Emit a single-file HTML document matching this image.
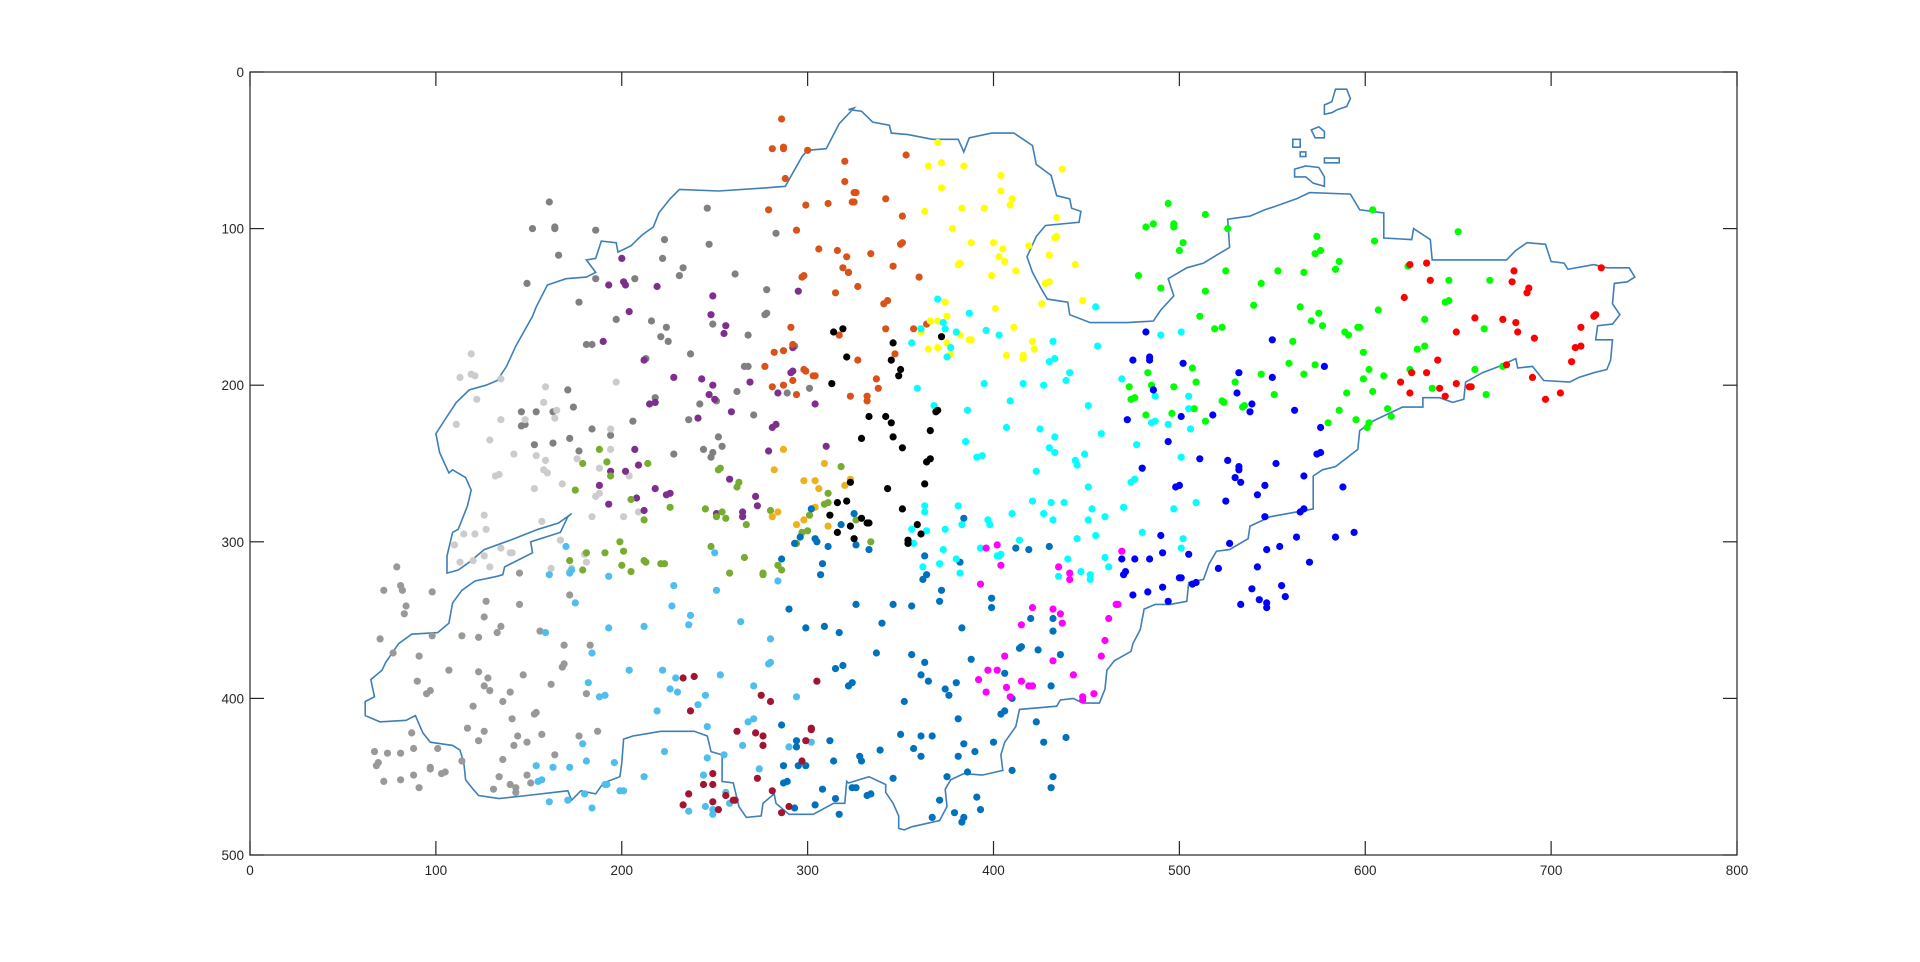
<!DOCTYPE html>
<html><head><meta charset="utf-8"><style>
html,body{margin:0;padding:0;background:#fff;}
svg{display:block;font-family:"Liberation Sans",sans-serif;}
</style></head><body>
<svg id="chart" width="1920" height="962" viewBox="0 0 1920 962" xmlns="http://www.w3.org/2000/svg">
<rect width="1920" height="962" fill="#ffffff"/>
<g id="outline"></g>
<g id="points"></g>
<g id="axes"></g>
</svg>
<script>
const xTicks=[0,100,200,300,400,500,600,700,800];
const yTicks=[0,100,200,300,400,500];
const xMax=800, yMax=500;
const L=250,R=1737,T=72,B=855;
function sx(x){return L+x*(R-L)/xMax;}
function sy(y){return T+y*(B-T)/yMax;}

const outlineMain=[[322,24],[329,25],[335,32],[344,34],[345,39],[354,40],[367,43],[381,43],[384,51],[387,42],[399,39],[411,39],[421,47],[423,59],[431,66],[434,79],[441,81],[442,87],[447,89],[446,96],[428,98],[423,105],[418,118],[421,128],[426,139],[429,145],[440,147],[441,155],[452,160],[472,160],[486,159],[490,152],[497,143],[494,132],[504,125],[513,122],[520,117],[527,112],[526,94],[538,92],[546,88],[551,86],[563,81],[570,77],[592,78],[597,88],[610,90],[610,106],[625,107],[626,100],[635,107],[636,120],[653,120],[676,120],[681,114],[687,109],[697,110],[700,121],[707,122],[709,126],[723,123],[730,125],[742,125],[745,131],[741,134],[734,135],[733,148],[737,155],[733,161],[725,162],[724,171],[733,171],[732,184],[730,190],[723,192],[715,195],[710,198],[696,197],[690,188],[682,189],[681,183],[672,188],[663,192],[654,198],[653,209],[647,211],[640,208],[631,208],[631,214],[620,214],[611,219],[604,223],[597,229],[596,241],[584,252],[577,254],[572,258],[572,279],[549,284],[538,290],[537,298],[527,305],[520,306],[516,314],[513,324],[505,326],[504,338],[495,340],[487,340],[481,343],[479,356],[475,365],[474,370],[465,376],[461,382],[460,394],[457,403],[448,403],[443,400],[436,401],[434,405],[414,407],[412,418],[406,428],[404,436],[405,446],[394,449],[384,448],[377,452],[374,458],[375,469],[371,478],[356,482],[352,484],[349,483],[349,475],[346,467],[342,460],[342,455],[333,450],[322,454],[321,453],[320,467],[314,467],[303,474],[290,474],[283,467],[282,461],[276,467],[275,475],[267,476],[263,469],[260,454],[254,453],[254,436],[248,434],[246,424],[239,421],[233,421],[221,421],[206,424],[201,426],[200,441],[199,450],[190,454],[186,461],[178,459],[173,465],[171,459],[149,462],[134,464],[123,462],[120,458],[116,452],[115,441],[113,433],[109,430],[97,428],[93,422],[89,411],[84,414],[70,415],[62,411],[62,402],[67,399],[65,388],[71,382],[73,377],[80,365],[87,359],[101,358],[107,352],[109,339],[114,331],[121,325],[133,322],[136,321],[137,316],[152,307],[151,300],[167,294],[171,284],[173,282],[166,288],[155,292],[140,299],[126,305],[118,313],[112,318],[106,320],[106,309],[109,294],[112,292],[117,277],[119,267],[116,259],[109,254],[107,256],[102,243],[100,231],[106,220],[111,211],[118,203],[127,200],[133,197],[138,188],[143,175],[152,156],[154,150],[160,136],[170,132],[181,131],[186,128],[181,120],[186,119],[189,108],[197,109],[198,115],[205,111],[211,104],[217,99],[220,90],[226,81],[231,75],[252,76],[277,74],[288,73],[297,54],[300,50],[310,49],[317,33],[325,23]];
const islands=[
[[584,11],[590,11],[592,17],[590,22],[585,24],[582,26],[578,27],[578,21],[582,19]],
[[571,37],[575,35],[578,38],[578,42],[573,42]],
[[561,43],[565,43],[565,48],[561,48]],
[[565,51],[568,51],[568,54],[565,54]],
[[578,55],[586,55],[586,58],[578,58]],
[[562,62],[568,60],[575,61],[578,67],[578,73],[572,71],[568,67],[562,67]]
];

const grayDark=[[161,83],[152,100],[164,99],[164,100],[186,101],[166,117],[149,135],[186,132],[177,147],[197,158],[207,132],[223,107],[222,119],[233,125],[231,130],[246,87],[247,110],[261,129],[278,139],[277,155],[278,154],[283,103],[268,168],[216,159],[224,163],[221,169],[225,172],[249,161],[237,180],[213,183],[181,174],[184,174],[266,188],[268,188],[262,204],[251,210],[242,212],[218,208],[171,203],[174,214],[154,217],[146,217],[146,226],[148,225],[163,217],[184,228],[194,232],[206,223],[236,222],[252,233],[254,239],[271,219],[289,205],[301,202],[293,175],[244,241],[249,243],[248,246],[228,244],[177,242],[172,234],[163,237],[153,238]];
const grayMid=[[79,316],[72,331],[81,328],[82,331],[98,332],[84,341],[83,346],[70,362],[77,371],[91,373],[98,360],[114,360],[123,361],[127,338],[126,348],[135,354],[133,358],[145,320],[145,340],[156,357],[172,334],[169,366],[183,366],[168,380],[169,378],[162,391],[181,397],[147,385],[128,387],[126,392],[129,395],[123,383],[107,382],[90,389],[95,397],[97,395],[140,396],[136,402],[120,405],[141,413],[154,409],[153,410],[117,419],[126,421],[123,427],[144,424],[149,428],[142,430],[157,423],[177,424],[187,421],[87,422],[88,432],[101,432],[67,434],[74,435],[81,435],[69,441],[68,443],[114,440],[136,439],[164,436],[97,444],[97,445],[103,448],[105,447],[88,449],[72,453],[81,452],[91,457],[134,450],[149,449],[151,454],[140,455],[143,457],[143,460],[131,458]];
const lightGray=[[119,180],[113,195],[119,193],[121,194],[135,196],[122,209],[111,225],[135,222],[129,235],[142,244],[154,245],[159,248],[158,254],[134,257],[132,258],[159,201],[158,211],[165,216],[164,221],[148,222],[197,198],[194,228],[194,241],[188,253],[204,258],[176,247],[160,256],[153,266],[168,263],[186,271],[188,269],[184,284],[201,284],[209,281],[126,283],[157,287],[115,295],[121,295],[127,292],[110,302],[135,304],[140,307],[141,307],[167,299],[180,308],[181,313],[113,313],[120,312],[126,309],[129,316],[162,317],[173,317],[172,319]];
const purple=[[200,119],[193,136],[201,134],[202,136],[219,137],[204,153],[190,172],[212,184],[228,195],[243,196],[249,143],[248,155],[256,162],[255,167],[249,200],[247,206],[250,209],[215,212],[218,211],[259,217],[241,221],[269,198],[284,205],[291,192],[292,191],[295,140],[292,176],[304,212],[281,227],[283,225],[279,242],[310,239],[207,241],[209,251],[194,255],[202,255],[258,260],[188,264],[193,276],[208,272],[212,280],[218,266],[224,270],[226,269],[272,271],[273,277],[265,281],[265,284],[251,282]];
const orange=[[286,30],[281,49],[287,48],[287,49],[300,50],[288,68],[320,57],[320,70],[326,77],[325,83],[311,84],[299,85],[279,88],[294,101],[306,113],[316,114],[321,118],[319,125],[322,128],[297,131],[298,130],[315,141],[291,163],[317,168],[292,174],[282,179],[287,178],[277,188],[298,190],[299,191],[303,194],[304,194],[292,197],[287,200],[281,201],[294,206],[353,53],[325,77],[324,83],[342,81],[351,92],[350,110],[351,109],[334,116],[346,124],[322,128],[360,131],[327,137],[341,148],[343,146],[342,164],[357,164],[364,161],[327,184],[347,180],[337,196],[338,202],[332,207],[332,210],[323,207]];
const black=[[314,166],[319,164],[321,182],[313,199],[323,262],[316,275],[321,274],[312,283],[323,290],[316,294],[325,298],[372,169],[346,173],[345,184],[350,190],[349,194],[333,220],[342,220],[345,224],[366,229],[346,233],[329,234],[351,240],[364,249],[366,247],[369,217],[370,216],[343,266],[363,263],[351,279],[329,285],[332,288],[333,288],[359,289],[361,295],[354,299],[354,301]];
const olive=[[188,241],[179,250],[192,249],[214,250],[253,253],[318,252],[194,258],[175,267],[205,273],[226,278],[212,286],[245,279],[252,254],[262,265],[263,262],[254,281],[251,284],[256,285],[267,289],[280,280],[311,269],[309,276],[311,275],[301,283],[297,294],[300,293],[294,301],[326,286],[199,300],[181,307],[191,307],[201,306],[172,312],[179,318],[200,315],[205,319],[212,312],[213,313],[221,314],[223,314],[248,303],[266,310],[258,320],[276,320],[284,315],[286,318],[276,321],[334,300]];
const amber=[[287,241],[309,250],[282,254],[298,261],[304,261],[306,266],[320,264],[323,260],[284,281],[281,284],[304,278],[298,286],[294,289],[311,290]];
const steelBlue=[[302,279],[325,282],[318,289],[296,297],[293,301],[304,298],[305,300],[311,303],[326,302],[286,311],[308,314],[307,321],[326,340],[290,343],[299,355],[309,354],[317,358],[315,381],[319,379],[322,392],[324,390],[286,417],[294,427],[294,431],[312,427],[287,443],[295,443],[299,443],[314,440],[328,437],[287,454],[289,453],[308,458],[315,464],[293,470],[304,468],[317,474],[324,457],[326,457],[333,305],[384,285],[412,304],[419,305],[430,303],[363,309],[382,313],[364,321],[362,324],[372,331],[371,338],[399,336],[399,342],[346,340],[356,341],[340,352],[383,355],[420,349],[432,349],[432,357],[414,368],[415,367],[424,369],[436,372],[337,371],[356,372],[363,377],[388,375],[361,385],[365,389],[380,390],[374,394],[376,398],[406,384],[431,392],[410,400],[352,402],[404,410],[406,408],[381,413],[423,415],[350,423],[361,424],[367,424],[400,428],[384,429],[427,428],[439,425],[339,433],[357,432],[361,437],[381,437],[390,434],[329,440],[346,451],[375,450],[386,447],[410,446],[432,450],[431,457],[332,462],[334,461],[371,465],[391,463],[393,471],[379,473],[384,476],[383,479],[367,476]];
const lightBlue=[[170,303],[161,321],[172,320],[173,318],[193,322],[175,339],[159,358],[193,355],[212,354],[228,328],[227,341],[237,347],[236,353],[251,331],[250,307],[264,351],[280,362],[279,378],[280,377],[284,325],[184,371],[204,382],[222,382],[229,387],[226,394],[230,396],[253,385],[271,392],[245,398],[241,404],[219,408],[294,399],[268,415],[271,413],[246,418],[265,430],[290,431],[302,428],[182,390],[188,399],[191,398],[179,429],[181,440],[196,441],[223,434],[255,436],[246,438],[274,445],[244,449],[212,450],[154,443],[163,444],[172,444],[155,453],[157,452],[191,455],[192,455],[199,459],[201,459],[180,461],[161,466],[171,465],[184,470],[236,472],[245,469],[249,471],[249,474],[256,460],[258,467]];
const darkRed=[[233,387],[239,386],[275,398],[280,402],[237,408],[262,421],[272,422],[276,424],[276,430],[302,419],[302,420],[299,427],[297,440],[305,389],[249,448],[273,451],[244,455],[249,455],[236,461],[256,462],[260,465],[261,465],[249,466],[233,468],[252,471],[281,459],[290,469],[286,473]];
const yellow=[[370,45],[365,60],[372,58],[384,60],[372,74],[404,66],[404,76],[410,81],[409,85],[363,89],[383,87],[395,87],[378,100],[388,109],[400,109],[405,113],[403,118],[406,121],[382,122],[381,123],[412,127],[399,130],[419,111],[430,117],[433,106],[434,105],[434,93],[437,62],[444,123],[428,135],[430,134],[426,148],[448,146],[401,151],[374,147],[375,156],[366,159],[370,159],[361,166],[411,163],[382,168],[387,171],[388,171],[375,173],[365,177],[370,176],[377,180],[421,172],[422,177],[407,181],[416,181],[416,183]];
const cyan=[[370,145],[387,154],[396,165],[403,168],[380,166],[374,164],[373,160],[361,164],[356,173],[377,176],[375,182],[432,172],[430,185],[433,183],[441,192],[439,197],[456,175],[455,150],[469,196],[395,199],[416,199],[427,200],[359,202],[368,213],[386,216],[409,210],[451,213],[407,227],[425,228],[433,233],[458,231],[385,236],[430,240],[433,243],[449,244],[444,248],[445,251],[391,246],[394,245],[480,253],[477,238],[490,168],[501,166],[487,207],[505,207],[505,215],[485,224],[487,223],[494,225],[506,228],[501,246],[423,255],[451,265],[474,262],[476,260],[421,274],[431,275],[438,275],[453,279],[451,286],[460,284],[470,278],[410,282],[427,282],[432,286],[397,286],[398,289],[381,277],[363,277],[363,281],[356,292],[364,293],[374,292],[383,289],[357,301],[373,305],[393,304],[414,299],[445,298],[455,296],[480,294],[497,279],[509,275],[502,298],[501,304],[460,310],[462,316],[447,319],[452,321],[452,324],[435,322],[440,311],[403,309],[402,309],[404,308],[380,311],[371,314],[362,316],[382,320]];
const magenta=[[396,304],[402,302],[404,315],[393,327],[435,316],[441,320],[441,324],[469,306],[421,342],[432,343],[436,346],[437,352],[415,353],[462,349],[466,340],[467,340],[460,363],[458,373],[406,373],[432,376],[397,382],[402,382],[392,388],[396,396],[407,393],[415,389],[419,392],[421,392],[409,399],[443,385],[448,399],[448,401],[454,397]];
const green=[[494,84],[482,99],[486,97],[497,97],[497,99],[514,91],[526,100],[502,109],[500,114],[478,130],[490,138],[514,140],[525,127],[511,156],[519,164],[523,163],[540,149],[544,135],[553,127],[567,128],[574,105],[573,116],[576,114],[586,121],[584,126],[565,150],[571,159],[575,154],[577,162],[589,166],[591,168],[596,163],[561,172],[559,186],[573,187],[567,193],[544,193],[530,198],[507,189],[509,198],[483,192],[485,200],[473,201],[497,201],[474,209],[476,208],[523,210],[524,211],[534,214],[535,213],[551,206],[508,215],[496,218],[482,219],[514,223],[586,216],[590,205],[580,224],[595,222],[604,88],[605,108],[650,102],[623,124],[645,133],[667,133],[643,147],[645,146],[607,152],[632,158],[664,164],[597,163],[599,179],[628,177],[632,175],[602,190],[610,194],[599,196],[624,190],[659,190],[674,188],[604,204],[636,202],[665,206],[612,215],[614,220],[602,224],[601,227]];
const blue=[[482,166],[475,184],[484,182],[484,184],[502,186],[532,192],[550,171],[550,195],[578,188],[486,203],[531,205],[539,212],[538,217],[518,219],[501,220],[472,222],[562,216],[576,227],[494,236],[511,247],[526,248],[532,252],[552,250],[574,244],[576,243],[480,253],[532,254],[530,259],[533,262],[567,258],[498,265],[500,264],[546,264],[542,270],[525,274],[588,265],[546,284],[565,281],[567,279],[490,296],[491,307],[505,308],[527,301],[547,305],[554,303],[563,297],[584,297],[594,294],[469,311],[476,311],[484,311],[470,321],[471,319],[521,317],[542,316],[570,313],[500,323],[501,323],[507,327],[509,326],[491,329],[475,334],[483,332],[494,338],[539,330],[555,328],[557,335],[543,337],[547,339],[547,342],[533,340]];
const red=[[624,123],[633,122],[635,133],[621,144],[680,127],[679,134],[688,138],[687,141],[727,125],[724,155],[723,156],[716,163],[659,157],[674,158],[681,160],[682,166],[649,166],[691,170],[713,176],[716,175],[711,185],[639,184],[625,192],[633,192],[619,198],[624,205],[640,202],[643,207],[649,199],[656,201],[657,201],[676,187],[690,195],[697,209],[705,205]];

const NS='http://www.w3.org/2000/svg';
function mk(tag,attrs,parent){const e=document.createElementNS(NS,tag);for(const k in attrs)e.setAttribute(k,attrs[k]);parent.appendChild(e);return e;}

const og=document.getElementById('outline');
function polyPath(pts){return pts.map((p,i)=>(i?'L':'M')+sx(p[0]).toFixed(1)+' '+sy(p[1]).toFixed(1)).join(' ')+' Z';}
const mainPath=mk('path',{d:polyPath(outlineMain),fill:'none',stroke:'#3f7fb8','stroke-width':'1.6','stroke-linejoin':'miter'},og);


islands.forEach(function(isl){
  const p=mk('path',{d:polyPath(isl),fill:'none',stroke:'#3f7fb8','stroke-width':'1.6'},og);
  
  
});

const pg=document.getElementById('points');
const clusters=[
 ['gray-dark',grayDark,'#808080'],['gray-mid',grayMid,'#999999'],['light-gray',lightGray,'#cccccc'],
 ['purple',purple,'#7e2f8e'],['orange',orange,'#d95319'],['olive',olive,'#77ac30'],['amber',amber,'#edb120'],
 ['steel-blue',steelBlue,'#0072bd'],['light-blue',lightBlue,'#4dbeee'],['dark-red',darkRed,'#a2142f'],
 ['yellow',yellow,'#ffff00'],['cyan',cyan,'#00ffff'],['magenta',magenta,'#ff00ff'],['green',green,'#00ff00'],
 ['blue',blue,'#0000ff'],['red',red,'#ff0000'],['black',black,'#000000']
];
clusters.forEach(function(c){
  const g=mk('g',{fill:c[2]},pg);
  
  
  c[1].forEach(function(p){
    const d=mk('circle',{cx:sx(p[0]).toFixed(1),cy:sy(p[1]).toFixed(1),r:'3.6'},g);
    
    
  });
});

const ag=document.getElementById('axes');
const frame=mk('rect',{x:L,y:T,width:R-L,height:B-T,fill:'none',stroke:'#262626','stroke-width':'1.2'},ag);


xTicks.forEach(function(v){
  const x=sx(v);
  const t1=mk('line',{x1:x,y1:B,x2:x,y2:B-14,stroke:'#262626','stroke-width':'1.2'},ag);
  
  
  const t2=mk('line',{x1:x,y1:T,x2:x,y2:T+14,stroke:'#262626','stroke-width':'1.2'},ag);
  
  
  const lb=mk('text',{x:x,y:B+20,'text-anchor':'middle','font-size':'13.5',fill:'#262626'},ag);
  lb.textContent=String(v);
  
  
});
yTicks.forEach(function(v){
  const y=sy(v);
  const t1=mk('line',{x1:L,y1:y,x2:L+14,y2:y,stroke:'#262626','stroke-width':'1.2'},ag);
  
  
  const t2=mk('line',{x1:R,y1:y,x2:R-14,y2:y,stroke:'#262626','stroke-width':'1.2'},ag);
  
  
  const lb=mk('text',{x:L-6,y:y+5,'text-anchor':'end','font-size':'13.5',fill:'#262626'},ag);
  lb.textContent=String(v);
  
  
});
</script>
</body></html>
